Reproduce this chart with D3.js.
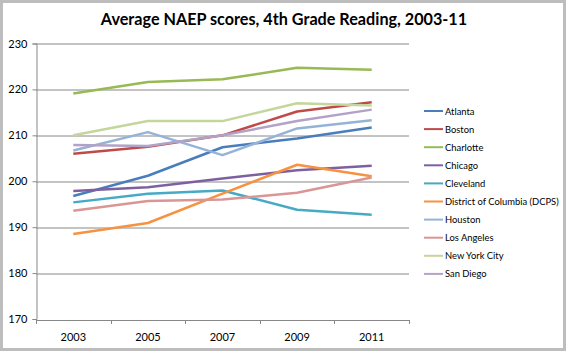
<!DOCTYPE html>
<html>
<head>
<meta charset="utf-8">
<script src="https://cdn.jsdelivr.net/npm/d3@7"></script>
<style>
  body { margin: 0; background: #fff; }
  svg { display: block; font-family: Lato, "Open Sans", sans-serif; }
</style>
</head>
<body>
<div id="chart"></div>
<script>
// data
var years = ["2003", "2005", "2007", "2009", "2011"];
var cities = ["Atlanta", "Boston", "Charlotte", "Chicago", "Cleveland",
    "District of Columbia (DCPS)", "Houston", "Los Angeles", "New York City", "San Diego"];
var atlanta = [196.8, 201.2, 207.4, 209.3, 211.7];
var boston = [206.0, 207.5, 210.0, 215.2, 217.2];
var charlotte = [219.1, 221.6, 222.2, 224.7, 224.3];
var chicago = [197.9, 198.7, 200.6, 202.4, 203.4];
var cleveland = [195.4, 197.3, 198.0, 193.8, 192.7];
var dcps = [188.5, 190.9, 197.3, 203.6, 201.1];
var houston = [206.7, 210.7, 205.7, 211.5, 213.3];
var losAngeles = [193.6, 195.7, 196.0, 197.5, 200.8];
var newYork = [210.0, 213.1, 213.1, 217.0, 216.5];
var sanDiego = [207.9, 207.7, 210.0, 213.1, 215.6];
var yTicks = [170, 180, 190, 200, 210, 220, 230];

var seriesValues = [atlanta, boston, charlotte, chicago, cleveland,
    dcps, houston, losAngeles, newYork, sanDiego];
var colors = ["#4A7EBB", "#BE4B48", "#98B954", "#7D60A0", "#46AAC5",
    "#F69240", "#95B3D7", "#D99694", "#C3D69B", "#B3A2C7"];

var series = cities.map(function(c, i) {
    return { name: c, values: seriesValues[i].map(function(v, j) { return { year: years[j], score: v }; }) };
});

var W = 567, H = 352;
var margin = {top: 43.5, right: 158, bottom: 33, left: 36};
var width = W - margin.left - margin.right,
    height = H - margin.top - margin.bottom;

var svg = d3.select("#chart").append("svg")
    .attr("width", W)
    .attr("height", H);

// outer frame
svg.append("rect")
    .attr("x", 1.5).attr("y", 1.5)
    .attr("width", W - 4).attr("height", H - 4)
    .attr("fill", "#fff")
    .attr("stroke", "#bdbdbd")
    .attr("stroke-width", 3);

svg.append("text")
    .attr("x", 284)
    .attr("y", 25)
    .attr("text-anchor", "middle")
    .style("font-size", "16.2px")
    .style("font-weight", "bold")
    .text("Average NAEP scores, 4th Grade Reading, 2003-11");

var g = svg.append("g")
    .attr("transform", "translate(" + margin.left + "," + margin.top + ")");

var x = d3.scaleBand()
    .domain(years)
    .range([0, width]);

var y = d3.scaleLinear()
    .domain([170, 230])
    .range([height, 0]);

var z = d3.scaleOrdinal().domain(cities).range(colors);

// gridlines
g.append("g")
    .selectAll("line")
    .data(yTicks.slice(1))
    .enter().append("line")
    .attr("x1", 0).attr("x2", width)
    .attr("y1", function(d) { return Math.round(y(d)) + 0.5; })
    .attr("y2", function(d) { return Math.round(y(d)) + 0.5; })
    .attr("stroke", "#888")
    .attr("stroke-width", 1);

var xAxis = d3.axisBottom(x).tickSize(0).tickPadding(13);
var yAxis = d3.axisLeft(y).tickValues(yTicks).tickSize(4).tickPadding(5);

var xg = g.append("g")
    .attr("class", "x-axis axis")
    .attr("transform", "translate(0," + (Math.round(height) + 0.5) + ")")
    .call(xAxis);
xg.select(".domain").attr("stroke", "#888");
// tick marks at band boundaries
xg.selectAll(".bound")
    .data(years.concat(["end"]))
    .enter().append("line")
    .attr("class", "bound")
    .attr("x1", function(d, i) { return Math.round(i * x.step()) + 0.5; })
    .attr("x2", function(d, i) { return Math.round(i * x.step()) + 0.5; })
    .attr("y1", 0).attr("y2", 4)
    .attr("stroke", "#888");

var yg = g.append("g")
    .attr("class", "y-axis axis")
    .attr("transform", "translate(0.5,0)")
    .call(yAxis);
yg.select(".domain").attr("stroke", "#888");
yg.selectAll(".tick line").attr("stroke", "#888");

svg.selectAll(".axis text")
    .style("font-size", "11px")
    .style("font-family", "Lato, 'Open Sans', sans-serif")
    .attr("fill", "#000");

var line = d3.line()
    .x(function(d) { return x(d.year) + x.bandwidth() / 2; })
    .y(function(d) { return y(d.score); });

g.selectAll(".city")
    .data(series)
    .enter().append("path")
    .attr("class", "city")
    .attr("fill", "none")
    .attr("stroke-width", 2.5)
    .attr("stroke-linejoin", "round")
    .attr("d", function(d) { return line(d.values); })
    .style("stroke", function(d) { return z(d.name); });

// legend
var legend = svg.append("g")
    .attr("transform", "translate(424,111)");

var item = legend.selectAll(".item")
    .data(cities)
    .enter().append("g")
    .attr("class", "item")
    .attr("transform", function(d, i) { return "translate(0," + (i * 18.1) + ")"; });

item.append("line")
    .attr("x1", 0).attr("x2", 19)
    .attr("y1", 0).attr("y2", 0)
    .attr("stroke-width", 2)
    .attr("stroke", function(d) { return z(d); });

item.append("text")
    .attr("x", 21)
    .attr("y", 3.5)
    .style("font-size", "9.4px")
    .text(function(d) { return d; });
</script>
</body>
</html>
